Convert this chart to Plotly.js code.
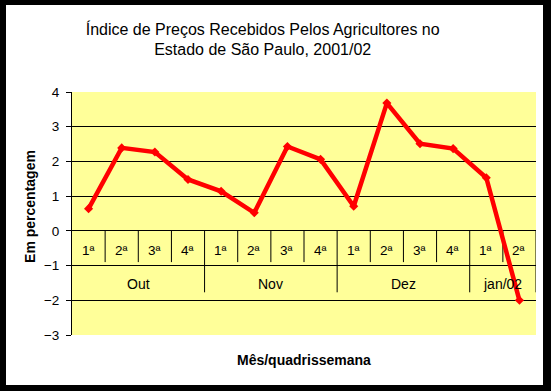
<!DOCTYPE html>
<html>
<head>
<meta charset="utf-8">
<script src="https://cdn.plot.ly/plotly-3.0.1.min.js"></script>
<style>
html,body{margin:0;padding:0;background:#000;width:551px;height:391px;overflow:hidden;}
#chart{position:absolute;left:6px;top:5px;width:537px;height:380px;background:#fff;}
</style>
</head>
<body>
<div id="chart"></div>
<script>
// Data
var weeks = ["1ª","2ª","3ª","4ª","1ª","2ª","3ª","4ª","1ª","2ª","3ª","4ª","1ª","2ª"];
var months = ["Out","Nov","Dez","jan/02"];
var monthWeeks = [4, 4, 4, 2];
var values = [0.64, 2.39, 2.27, 1.48, 1.14, 0.52, 2.43, 2.06, 0.71, 3.68, 2.51, 2.37, 1.53, -2.0];

var xs = values.map(function(v, i){ return i + 1; });

var FAM = "Liberation Sans, Arial, sans-serif";
var shapes = [];
var annotations = [];
var catFont = {family: FAM, size: 13.5, color: "#000"};

// week labels and separators
weeks.forEach(function(w, i){
  annotations.push({x: i + 1, y: -0.57, xref: "x", yref: "y", text: w, showarrow: false,
    font: catFont, xanchor: "center", yanchor: "middle"});
});
// month labels and separators
var start = 0.5;
var monthEnds = [];
months.forEach(function(m, k){
  var end = start + monthWeeks[k];
  annotations.push({x: (start + end) / 2, y: -1.52, xref: "x", yref: "y", text: m, showarrow: false,
    font: {family: FAM, size: 14, color: "#000"}, xanchor: "center", yanchor: "middle"});
  monthEnds.push(end);
  start = end;
});
for (var i = 1; i < weeks.length; i++) {
  var b = i + 0.5;
  var isMonth = monthEnds.indexOf(b) >= 0;
  shapes.push({type: "line", xref: "x", yref: "y", x0: b, x1: b, y0: 0, y1: isMonth ? -1.77 : -0.9,
    line: {color: "#000", width: 1}, layer: "below"});
}
shapes.push({type: "line", xref: "x", yref: "y", x0: weeks.length + 0.5, x1: weeks.length + 0.5, y0: 0, y1: -1.77,
  line: {color: "#000", width: 1}, layer: "below"});

// axis titles
annotations.push({xref: "paper", yref: "paper", x: 0.5, y: -25/243, text: "<b>Mês/quadrissemana</b>",
  showarrow: false, xanchor: "center", yanchor: "middle",
  font: {family: FAM, size: 14, color: "#000"}});
annotations.push({xref: "paper", yref: "paper", x: -42/464, y: 0.527, text: "<b>Em percentagem</b>",
  showarrow: false, xanchor: "center", yanchor: "middle", textangle: -90,
  font: {family: FAM, size: 14, color: "#000"}});

var trace = {
  x: xs, y: values, type: "scatter", mode: "lines+markers",
  line: {color: "#FF0000", width: 4.5},
  marker: {color: "#FF0000", size: 7, symbol: "diamond"},
  hoverinfo: "skip"
};

var layout = {
  width: 537, height: 380,
  margin: {l: 66, r: 7, t: 87, b: 50, pad: 0},
  paper_bgcolor: "#FFFFFF",
  plot_bgcolor: "#FFFF99",
  showlegend: false,
  font: catFont,
  title: {text: "Índice de Preços Recebidos Pelos Agricultores no<br>Estado de São Paulo, 2001/02",
    x: 0.478, xanchor: "center", xref: "container", y: 0.922, yanchor: "middle", yref: "container",
    font: {family: FAM, size: 16, color: "#000"}},
  xaxis: {range: [0.5, 14.5], showgrid: false, zeroline: false, showline: false,
    showticklabels: false, ticks: "", fixedrange: true},
  yaxis: {range: [-3, 4], dtick: 1, tick0: 0, showgrid: true, gridcolor: "#000", gridwidth: 1,
    zeroline: true, zerolinecolor: "#000", zerolinewidth: 1,
    showline: true, linecolor: "#000", linewidth: 1,
    ticks: "outside", ticklen: 5, tickcolor: "#000", tickwidth: 1,
    ticklabelstandoff: 4,
    tickfont: {family: FAM, size: 13.5, color: "#000"},
    tickformat: "d", fixedrange: true},
  shapes: shapes,
  annotations: annotations
};

Plotly.newPlot("chart", [trace], layout, {displayModeBar: false, staticPlot: true});
</script>
</body>
</html>
